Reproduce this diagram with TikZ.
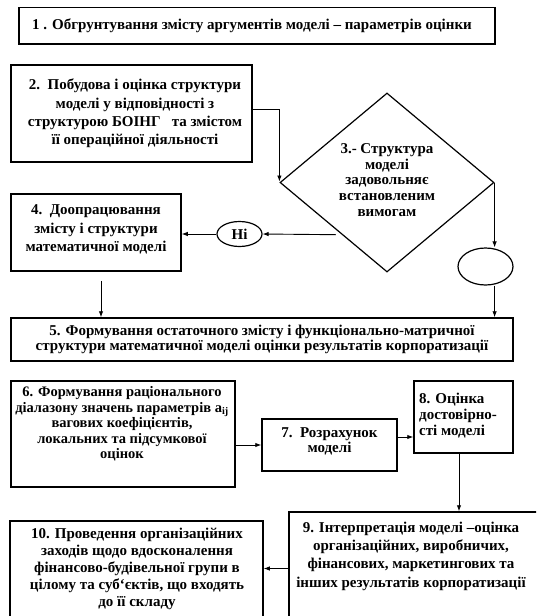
\documentclass[tikz,border=0pt]{standalone}
\usepackage{fontspec}
\setmainfont{Liberation Serif}
\usetikzlibrary{shapes.geometric,arrows.meta,calc}
\begin{document}
\begin{tikzpicture}[x=1pt,y=-1pt,
  box/.style={draw, line width=1.5pt, inner sep=0pt},
  txt/.style={align=center, inner sep=0pt, font=\fontsize{15}{15.7}\selectfont\bfseries},
  txtb/.style={txt, font=\fontsize{15}{18.3}\selectfont\bfseries},
  arr/.style={-{Latex[length=6pt,width=4.5pt]}, line width=0.9pt}]
\useasboundingbox (0,0) rectangle (536,616);
\clip (0,0) rectangle (536,616);
\fill[white] (0,0) rectangle (536,616);

% boxes
\node[box, minimum width=476pt, minimum height=36.5pt] (b1) at (257,25.75) {};
\node[txt] (b1t) at (252,25.5) {1 . Обгрунтування змісту аргументів моделі – параметрів оцінки};

\node[box, minimum width=241pt, minimum height=97pt] (b2) at (131.5,113.5) {};
\node[txtb] (b2t) at (135,113.5) {2.\ \ Побудова і оцінка структури\\моделі у відповідності з\\структурою БОІНГ\ \ \ та змістом\\її операційної діяльності};

\node[draw, line width=1.2pt, shape=diamond, minimum width=214pt, minimum height=179pt, inner sep=0pt] (d) at (387,182.5) {};
\node[txt] (dt) at (387,180) {3.- Структура\\моделі\\задовольняє\\встановленим\\вимогам};

\node[box, minimum width=170pt, minimum height=77pt] (b4) at (96,232.5) {};
\node[txtb] (b4t) at (96,229.5) {4.\ \ Доопрацювання\\змісту і структури\\математичної моделі};

\node[draw, line width=1.2pt, ellipse, minimum width=45pt, minimum height=25pt, inner sep=0pt, font=\fontsize{15}{15}\selectfont\bfseries] (ni) at (239.5,234) {Ні};
\node[draw, line width=1.2pt, ellipse, minimum width=55pt, minimum height=37pt, inner sep=0pt] (e) at (485.5,266.5) {};

\node[box, minimum width=502pt, minimum height=43pt] (b5) at (262,339.5) {};
\node[txt] (b5t) at (262,339.5) {5. Формування остаточного змісту і функціонально-матричної\\структури математичної моделі оцінки результатів корпоратизації};

\node[box, minimum width=224pt, minimum height=106pt] (b6) at (123,434) {};
\node[txt, font=\fontsize{14.5}{15.5}\selectfont\bfseries] (b6t) at (122,424) {6. Формування раціонального\\діалазону значень параметрів а\textsubscript{ij}\\вагових коефіцієнтів,\\локальних та підсумкової\\оцінок};

\node[box, minimum width=135pt, minimum height=52pt] (b7) at (329.5,445) {};
\node[txt] (b7t) at (329.5,441.5) {7.\ \ Розрахунок\\моделі};

\node[box, minimum width=99pt, minimum height=72pt] (b8) at (463.5,417) {};
\node[txt, align=left, anchor=west] (b8t) at (419,415.5) {8. Оцінка\\достовірно-\\сті моделі};

\node[box, minimum width=256pt, minimum height=113pt] (b9) at (417,568.5) {};
\node[txtb] (b9t) at (411,556) {9. Інтерпретація моделі –оцінка\\організаційних, виробничих,\\фінансових, маркетингових та\\інших результатів корпоратизації};

\node[box, minimum width=253pt, minimum height=107pt] (b10) at (136.5,574.5) {};
\node[txt, font=\fontsize{15}{17}\selectfont\bfseries] (b10t) at (137,569) {10. Проведення організаційних\\заходів щодо вдосконалення\\фінансово-будівельної групи в\\цілому та суб{\char96}єктів, що входять\\до її складу};

% connectors
\draw[arr, shorten >=1pt] ([yshift=4.5pt]b2.east) -| (d.west);
\coordinate (dl) at ($(d.west)!0.58!(d.south)$);
\draw[arr, shorten <=6pt] (dl) -- (ni.east);
\draw[arr] (ni.west) -- (b4.east |- ni.west);
\draw[arr, shorten <=9pt] ([xshift=5pt]b4.south) -- ([xshift=5pt]b4.south |- b5.north);
\draw[arr] (d.east) -- (d.east |- e.north);
\draw[arr] (d.east |- e.south) -- (d.east |- b5.north);
\draw[arr] (b6.east |- b7.west) -- (b7.west);
\coordinate (s78) at ([yshift=8pt]b7.east);
\draw[arr] (s78) -- (b8.west |- s78);
\draw[arr] ([xshift=-4.5pt]b8.south) -- ([xshift=-4.5pt]b8.south |- b9.north);
\draw[arr] (b9.west) -- (b10.east |- b9.west);
\end{tikzpicture}
\end{document}
